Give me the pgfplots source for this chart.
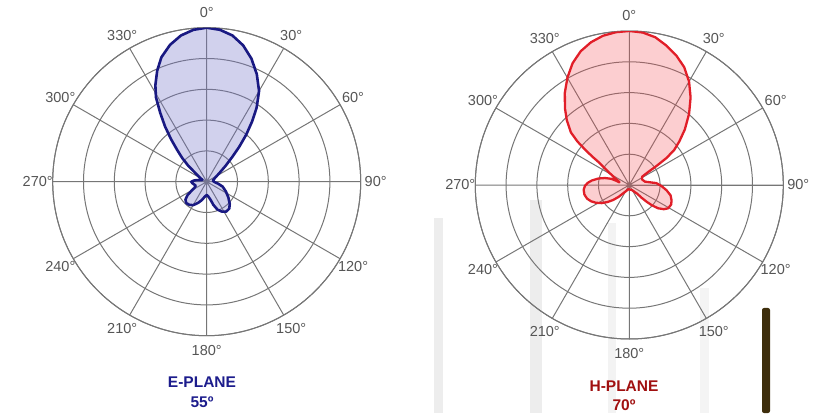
\documentclass[border=0pt]{standalone}
\usepackage{pgfplots}
\pgfplotsset{compat=1.18}
\usepgfplotslibrary{polar}
\usepackage{pgfplotstable}
\usepackage{fontspec}
\setmainfont{Liberation Sans}

\definecolor{gridc}{RGB}{118,118,118}
\definecolor{labc}{RGB}{85,85,85}
\definecolor{eline}{RGB}{25,25,130}
\definecolor{efill}{RGB}{115,115,200}
\definecolor{hline}{RGB}{225,30,40}
\definecolor{hfill}{RGB}{245,75,80}
\definecolor{etext}{RGB}{28,28,140}
\definecolor{htext}{RGB}{160,16,16}
\definecolor{barc}{RGB}{237,237,237}
\definecolor{polec}{RGB}{62,46,12}

\pgfplotstableread{
ang r
0 5.0
5 4.95
10 4.82
15 4.58
20 4.25
25 3.85
30 3.4
34 2.9
37 2.45
40 2.0
43 1.55
46 1.15
50 0.8
56 0.49
65 0.3
80 0.2
92 0.25
100 0.38
107 0.54
117 0.7
126 0.87
134 1.04
140 1.14
147 1.16
153 1.09
159 0.97
164 0.78
168 0.6
174 0.48
180 0.43
188 0.5
195 0.62
202 0.74
210 0.88
217 0.94
224 0.96
230 0.9
235 0.76
239 0.58
243 0.45
250 0.38
258 0.42
264 0.47
270 0.5
275 0.42
279 0.33
285 0.2
293 0.15
300 0.25
305 0.36
308 0.5
311 0.8
314 1.1
317 1.4
320 1.8
323 2.25
326 2.7
329 3.2
332 3.55
336 3.95
340 4.3
345 4.6
350 4.82
355 4.95
360 5.0
}\Edata

\pgfplotstableread{
ang r
0 5.0
5 4.97
10 4.87
15 4.68
20 4.47
25 4.22
30 3.88
35 3.47
40 3.02
45 2.55
49 2.15
52 1.85
54 1.5
55 1.1
55.5 0.75
57 0.5
66 0.45
78 0.52
86 0.88
92 1.05
98 1.22
104 1.38
110 1.46
115 1.5
121 1.47
125 1.37
129 1.2
132 0.98
134 0.78
136 0.58
138 0.38
150 0.2
170 0.15
193 0.14
205 0.2
216 0.33
222 0.52
227 0.71
232 0.9
237 1.08
242 1.23
247 1.35
252 1.44
258 1.49
264 1.49
269 1.44
273 1.35
277 1.22
282 1.02
286 0.82
289 0.62
288 0.45
285 0.33
290 0.38
295 0.5
301 0.73
304 0.95
306.5 1.2
307.5 1.5
308.5 1.8
310 2.2
312 2.55
316 2.92
320 3.25
325 3.65
330 4.02
335 4.36
340 4.62
345 4.8
350 4.92
355 4.98
360 5.0
}\Hdata

\pgfplotsset{myp/.style={
  scale only axis, width=308pt, height=308pt,
  ymin=0, ymax=5,
  xtick={0,30,...,330},
  xticklabels={,,,,,,,,,,,},
  ytick={1,2,3,4,5}, yticklabels={,,,,},
  grid=both, major grid style={gridc, line width=1pt},
  axis line style={gridc, line width=1pt},
  tick style={draw=none},
  x filter/.expression={90-x},
}}

\newcommand\compasslabels[2]{%
  \begin{scope}[shift={(#1,#2)}, every node/.style={font=\fontsize{14.5}{14.5}\selectfont, text=labc, inner sep=0pt}]
  \foreach \c in {0,30,...,330} {
    \pgfmathsetmacro\t{90-\c}
    \node at (\t:169) {\c°};
  }
  \end{scope}}

\begin{document}
\begin{tikzpicture}[x=1pt,y=1pt]
\useasboundingbox (0,0) rectangle (823,413);
% background photo remnants
\fill[barc] (434,0) rectangle (443,195);
\fill[barc] (530,0) rectangle (542,213);
\fill[barc!70] (608,0) rectangle (616,190);
\fill[barc!60] (700,0) rectangle (709,125);
\fill[polec, rounded corners=2pt] (762,0) rectangle (770,105);

\begin{polaraxis}[myp, at={(206.7pt,231.3pt)}, anchor=center]
\addplot[draw=eline, line width=2.6pt, fill=efill, fill opacity=0.33, draw opacity=1, line join=round]
  table[x=ang,y=r]{\Edata};
\end{polaraxis}

\begin{polaraxis}[myp, at={(629.3pt,228pt)}, anchor=center]
\addplot[draw=hline, line width=2.3pt, fill=hfill, fill opacity=0.27, draw opacity=1, line join=round]
  table[x=ang,y=r]{\Hdata};
\end{polaraxis}

\compasslabels{206.7}{231.3}
\compasslabels{629.3}{228}

\node[text=etext, font=\bfseries\fontsize{15.5}{15.5}\selectfont] at (202,30.5) {E-PLANE};
\node[text=etext, font=\bfseries\fontsize{15.5}{15.5}\selectfont] at (202,11) {55º};
\node[text=htext, font=\bfseries\fontsize{15.5}{15.5}\selectfont] at (624,26.5) {H-PLANE};
\node[text=htext, font=\bfseries\fontsize{15.5}{15.5}\selectfont] at (624,8) {70º};
\end{tikzpicture}
\end{document}
